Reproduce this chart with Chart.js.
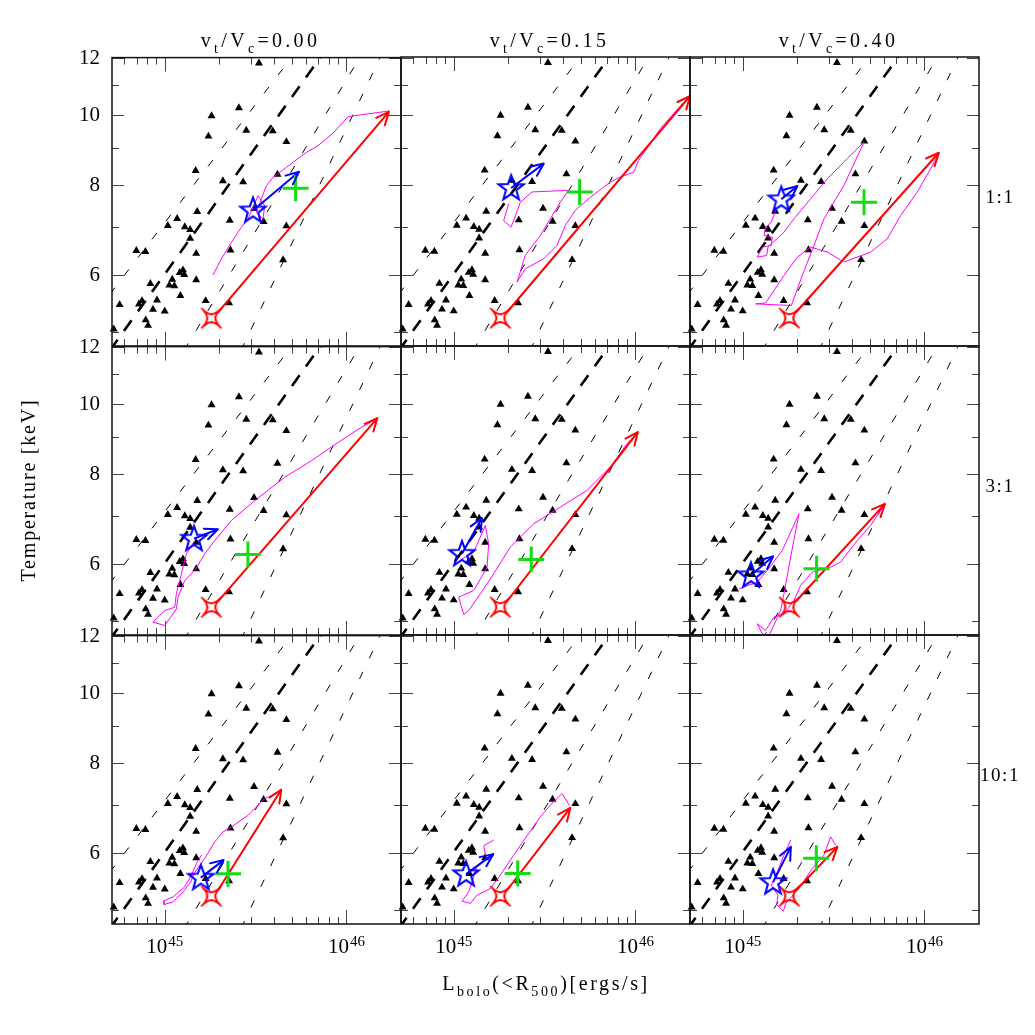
<!DOCTYPE html>
<html>
<head>
<meta charset="utf-8">
<title>Temperature vs bolometric luminosity</title>
<script src="https://cdn.jsdelivr.net/npm/chart.js@4.4.1/dist/chart.umd.min.js"></script>
<style>
  html,body{margin:0;padding:0;background:#fff;}
  #stage{position:relative;width:1035px;height:1035px;overflow:hidden;background:#fff;
         font-family:"Liberation Serif","DejaVu Serif",serif;color:#000;}
  .pw{position:absolute;}
  .pw canvas{display:block;}
  .lab{position:absolute;white-space:nowrap;transform:translate(-50%,-50%);line-height:1;}
  .lab sub{font-size:0.7em;vertical-align:-0.45em;line-height:0;}
</style>
</head>
<body>
<div id="stage"></div>
<script>
// ---------------- data (L in units of 10^45 erg/s, T in keV) ----------------
const COL_TITLES = ['0.00', '0.15', '0.40'];
const ROW_LABELS = ['1:1', '3:1', '10:1'];
const X_MAJOR = [1, 10];
const X_MINOR = [0.6, 0.7, 0.8, 0.9, 2, 3, 4, 5, 6, 7, 8, 9];
const Y_MAJOR = [6, 8, 10, 12];
const Y_MINOR = [5, 7, 9, 11];

// observed clusters (black triangles)
const OBS_L = [3.30, 2.56, 1.81, 2.81, 3.93, 1.74, 4.67, 1.48, 4.17, 2.09, 2.70, 3.10, 1.51, 1.17, 1.04, 1.29,
               1.38, 2.28, 3.50, 4.67, 1.38, 0.698, 0.783, 1.49, 2.30, 4.48, 1.26, 1.21, 1.28, 1.10, 1.49, 0.834,
               1.06, 1.13, 1.22, 0.565, 0.722, 0.750, 0.907, 0.862, 1.00, 1.68, 2.26, 0.786, 0.810, 0.524];
const OBS_T = [11.81, 10.24, 9.98, 9.53, 9.51, 9.35, 9.19, 8.38, 8.28, 8.11, 8.08, 7.42, 7.35, 7.19, 7.03, 7.00,
               6.94, 7.15, 7.12, 7.02, 6.75, 6.49, 6.47, 6.43, 6.50, 6.30, 6.10, 6.05, 6.01, 5.92, 5.91, 5.84,
               5.81, 5.80, 5.62, 5.46, 5.47, 5.53, 5.54, 5.38, 5.35, 5.53, 5.49, 5.20, 5.11, 5.05];

// reference relations (dashed)
const FIT_L = [0.50, 7.3],   FIT_T = [4.72, 12.1];
const LO_L  = [0.50, 5.08],  LO_T  = [5.65, 12.1];
const HI1_L = [1.28, 12.0],  HI1_T = [4.72, 12.1];
const HI2_L = [2.63, 15.5],  HI2_T = [4.72, 12.1];

// initial state (red star) and red arrow start
const RED_STAR_L = 1.805, RED_STAR_T = 5.23;
const RED_START_L = 1.964, RED_START_T = 5.33;

// per panel: [1:1 a,b,c, 3:1 a,b,c, 10:1 a,b,c]
const RED_TIP_L   = [17.1, 20.0, 12.0, 14.8, 10.3, 6.06, 4.38, 4.38, 3.32];
const RED_TIP_T   = [10.11, 10.62, 8.86, 9.57, 9.14, 7.27, 7.35, 6.93, 6.12];
const BLUE_STAR_L = [3.06, 2.07, 1.63, 1.45, 1.11, 1.11, 1.58, 1.17, 1.47];
const BLUE_STAR_T = [7.38, 7.92, 7.64, 6.51, 6.20, 5.79, 5.55, 5.61, 5.47];
const BLUE_TIP_L  = [5.48, 3.13, 2.00, 1.96, 1.43, 1.47, 2.11, 1.65, 1.84];
const BLUE_TIP_T  = [8.35, 8.56, 7.97, 6.71, 6.95, 6.15, 5.87, 5.98, 6.12];
const GREEN_L     = [5.25, 4.93, 4.65, 2.87, 2.67, 2.55, 2.23, 2.25, 2.54];
const GREEN_T     = [7.92, 7.82, 7.57, 6.19, 6.09, 5.91, 5.62, 5.62, 5.90];

// simulated evolution tracks (magenta)
const track11L = [1.844, 2.049, 2.326, 2.640, 2.872, 3.261, 3.547, 3.473, 3.192, 3.623, 3.942, 4.669, 6.013, 6.971, 8.429, 10.19, 10.86, 17.28];
const track11T = [6.006, 6.32, 6.665, 6.99, 7.18, 7.735, 7.49, 7.18, 7.33, 7.986, 8.20, 8.467, 8.883, 9.073, 9.445, 9.95, 9.98, 10.14];
const track12L = [2.006, 1.883, 2.066, 2.156, 2.326, 2.696, 4.290, 3.860, 3.401, 2.997, 2.474, 2.321, 2.229, 2.474, 3.125, 3.700, 4.113, 4.669, 5.645, 7.27, 8.256, 9.77, 10.41, 12.07, 13.70, 16.22, 19.20];
const track12T = [7.53, 7.14, 6.99, 7.18, 7.57, 7.82, 7.86, 7.57, 7.18, 6.81, 6.387, 6.056, 5.868, 6.12, 6.32, 6.595, 7.03, 7.375, 7.69, 8.07, 8.20, 8.33, 8.65, 9.12, 9.57, 10.04, 10.53];
const track13L = [1.518, 1.437, 1.337, 1.309, 1.455, 1.437, 1.282, 1.203, 1.354, 1.377, 1.687, 1.915, 2.364, 2.921, 3.762, 4.648, 3.606, 2.800, 2.466, 2.128, 1.851, 1.178, 1.337, 1.687, 1.997, 2.364, 2.921, 3.606, 5.056, 6.242, 7.39, 9.13, 10.81, 12.01];
const track13T = [7.375, 7.105, 6.99, 6.81, 6.77, 6.595, 6.56, 6.353, 6.387, 6.56, 6.88, 7.18, 7.65, 8.155, 8.70, 9.17, 7.986, 7.18, 6.595, 5.993, 5.445, 5.474, 5.49, 5.993, 6.353, 6.56, 6.457, 6.254, 6.457, 6.735, 7.255, 7.82, 8.42, 8.86];
const track21L = [1.462, 1.315, 1.235, 1.159, 1.135, 1.0, 0.862, 1.0, 1.159, 1.184, 1.288, 1.462, 1.659, 1.883, 2.326, 3.125, 4.571, 6.41, 8.98, 12.07, 14.60];
const track21T = [6.47, 6.20, 5.817, 5.458, 5.23, 5.175, 4.987, 4.934, 5.20, 5.40, 5.695, 5.88, 6.20, 6.47, 6.90, 7.35, 7.92, 8.35, 8.85, 9.29, 9.54];
const track22L = [1.111, 1.288, 1.493, 1.557, 1.525, 1.288, 1.065, 1.135, 1.209, 1.402, 1.659, 2.049, 2.754, 3.860, 5.411, 7.27, 8.98, 10.19];
const track22T = [6.10, 6.23, 6.785, 6.40, 5.94, 5.515, 5.40, 5.11, 5.175, 5.458, 5.817, 6.335, 6.823, 7.194, 7.59, 8.17, 8.81, 9.09];
const track23L = [0.954, 1.203, 1.366, 1.651, 2.040, 1.835, 1.687, 1.617, 1.395, 1.282, 1.203, 1.337, 1.486, 1.687, 1.915, 2.083, 2.415, 3.046, 3.457, 4.270, 5.056, 5.98];
const track23T = [5.545, 5.665, 5.88, 6.266, 7.045, 6.135, 5.458, 5.175, 4.778, 4.803, 4.96, 4.855, 5.068, 5.12, 5.343, 5.606, 5.848, 5.94, 6.04, 6.47, 6.785, 7.235];
const track31L = [1.591, 1.493, 1.402, 1.288, 1.111, 0.979, 0.991, 1.111, 1.261, 1.390, 1.449, 1.659, 1.883, 2.093, 2.326, 2.872, 3.547, 4.381];
const track31T = [5.962, 5.805, 5.593, 5.389, 5.22, 5.148, 5.093, 5.137, 5.304, 5.474, 5.623, 5.898, 6.22, 6.423, 6.526, 6.77, 7.14, 7.33];
const track32L = [1.659, 1.462, 1.512, 1.343, 1.288, 1.209, 1.111, 1.235, 1.343, 1.591, 1.805, 2.137, 2.474, 2.997, 3.401, 3.942, 4.326];
const track32T = [6.254, 6.142, 5.898, 5.763, 5.563, 5.304, 5.148, 5.11, 5.247, 5.36, 5.593, 5.962, 6.287, 6.735, 6.99, 7.255, 6.99];
const track33L = [1.835, 1.687, 1.550, 1.437, 1.563, 1.537, 1.673, 1.723, 2.040, 2.415, 2.800, 3.046, 3.246];
const track33T = [6.254, 5.962, 5.653, 5.417, 5.247, 5.093, 4.987, 5.11, 5.36, 5.713, 5.962, 6.32, 6.154];

const TRACKS_L = [track11L, track12L, track13L, track21L, track22L, track23L, track31L, track32L, track33L];
const TRACKS_T = [track11T, track12T, track13T, track21T, track22T, track23T, track31T, track32T, track33T];

// ---------------- layout / style ----------------
const X_MIN = Math.pow(10, -0.29), X_MAX = Math.pow(10, 1.30);
const Y_MIN = Math.pow(10, 0.68),  Y_MAX = Math.pow(10, 1.08);
const PANEL_X0 = 112, PANEL_Y0 = 57, PANEL = 289;
const PAD_L = 70, PAD_R = 24, PAD_T = 24, PAD_B = 50;
const FONT = '"Liberation Serif", "DejaVu Serif", serif';
const HEAD_LEN = 14, HEAD_ANG = 0.42;

const pts = (L, T) => L.map((v, i) => ({x: v, y: T[i]}));

function makeBlueStar() {
  const s = 44, c = document.createElement('canvas'); c.width = s; c.height = s;
  const g = c.getContext('2d');
  g.strokeStyle = '#0000ff'; g.lineJoin = 'miter';
  const outline = (R, r, w) => {
    g.lineWidth = w;
    g.beginPath();
    for (let k = 0; k < 10; k++) {
      const rad = (k % 2) ? r : R;
      const a = -Math.PI / 2 + k * Math.PI / 5;
      const px = s / 2 + rad * Math.cos(a), py = s / 2 + rad * Math.sin(a) + 0.5;
      if (k === 0) g.moveTo(px, py); else g.lineTo(px, py);
    }
    g.closePath(); g.stroke();
  };
  outline(14.2, 5.9, 1.4);
  outline(12.0, 4.9, 1.2);
  return c;
}
function makeRedStar() {
  const s = 44, c = document.createElement('canvas'); c.width = s; c.height = s;
  const g = c.getContext('2d');
  g.strokeStyle = '#ff0000'; g.lineJoin = 'miter';
  const cx = s / 2;
  const outline = (R, q, w) => {
    g.lineWidth = w;
    g.beginPath();
    for (let k = 0; k < 4; k++) {
      const a = -3 * Math.PI / 4 + k * Math.PI / 2;
      const an = a + Math.PI / 2;
      if (k === 0) g.moveTo(cx + R * Math.cos(a), cx + R * Math.sin(a));
      g.bezierCurveTo(cx + q * Math.cos(a), cx + q * Math.sin(a),
                      cx + q * Math.cos(an), cx + q * Math.sin(an),
                      cx + R * Math.cos(an), cx + R * Math.sin(an));
    }
    g.closePath(); g.stroke();
  };
  outline(14.5, 3.2, 1.6);
  outline(12.3, 2.6, 1.1);
  return c;
}
const BLUE_STAR_IMG = makeBlueStar();
const RED_STAR_IMG = makeRedStar();

const deco = {
  id: 'deco',
  afterDatasetsDraw(chart, args, opts) {
    const ctx = chart.ctx, a = chart.chartArea, xs = chart.scales.x, ys = chart.scales.y;
    ctx.save();
    // arrow heads
    chart.data.datasets.forEach((ds, i) => {
      if (!ds.arrowHead) return;
      const el = chart.getDatasetMeta(i).data;
      const p1 = el[el.length - 1], p0 = el[el.length - 2];
      const ang = Math.atan2(p1.y - p0.y, p1.x - p0.x);
      ctx.setLineDash([]);
      ctx.strokeStyle = ds.borderColor; ctx.lineWidth = ds.borderWidth; ctx.lineCap = 'round';
      ctx.beginPath();
      for (const sg of [-1, 1]) {
        ctx.moveTo(p1.x, p1.y);
        ctx.lineTo(p1.x - HEAD_LEN * Math.cos(ang + sg * HEAD_ANG), p1.y - HEAD_LEN * Math.sin(ang + sg * HEAD_ANG));
      }
      ctx.stroke();
    });
    // inward ticks on four sides
    ctx.lineCap = 'butt';
    ctx.strokeStyle = '#444'; ctx.lineWidth = 1;
    ctx.beginPath();
    const xt = (v, len) => {
      const p = Math.round(xs.getPixelForValue(v)) + 0.5;
      ctx.moveTo(p, a.bottom); ctx.lineTo(p, a.bottom - len);
      ctx.moveTo(p, a.top); ctx.lineTo(p, a.top + len);
    };
    const yt = (v, len) => {
      const p = Math.round(ys.getPixelForValue(v)) + 0.5;
      ctx.moveTo(a.left, p); ctx.lineTo(a.left + len, p);
      ctx.moveTo(a.right, p); ctx.lineTo(a.right - len, p);
    };
    X_MAJOR.forEach(v => xt(v, 14)); X_MINOR.forEach(v => xt(v, 7));
    Y_MAJOR.forEach(v => yt(v, 12)); Y_MINOR.forEach(v => yt(v, 7));
    ctx.stroke();
    // frame
    ctx.strokeStyle = '#111'; ctx.lineWidth = 1.5;
    ctx.strokeRect(a.left, a.top, a.right - a.left, a.bottom - a.top);
    // x tick labels 10^n
    if (opts.xLabels) {
      ctx.fillStyle = '#000'; ctx.textBaseline = 'alphabetic'; ctx.textAlign = 'left';
      X_MAJOR.forEach(v => {
        const px = xs.getPixelForValue(v);
        const base = '10', ex = String(45 + Math.round(Math.log10(v)));
        ctx.font = '21px ' + FONT; const wb = ctx.measureText(base).width;
        ctx.font = '15px ' + FONT; const we = ctx.measureText(ex).width;
        const x0 = px - (wb + we + 1) / 2;
        ctx.font = '21px ' + FONT; ctx.fillText(base, x0, a.bottom + 29);
        ctx.font = '15px ' + FONT; ctx.fillText(ex, x0 + wb + 1, a.bottom + 22);
      });
    }
    ctx.restore();
  }
};

const stage = document.getElementById('stage');

function datasetsFor(k) {
  const lineDs = (L, T, w, dash, ord) => ({
    data: pts(L, T), showLine: true, pointRadius: 0, borderColor: '#000', borderWidth: w,
    borderDash: dash, order: ord, tension: 0
  });
  return [
    { data: [{x: GREEN_L[k], y: GREEN_T[k]}], pointStyle: 'cross', pointRadius: 13, borderColor: '#11dd11',
      backgroundColor: '#11dd11', borderWidth: 3, order: 1, clip: false },
    { data: [{x: BLUE_STAR_L[k], y: BLUE_STAR_T[k]}], pointStyle: BLUE_STAR_IMG, order: 2, clip: false },
    { data: [{x: RED_STAR_L, y: RED_STAR_T}], pointStyle: RED_STAR_IMG, order: 3, clip: false },
    { data: [{x: BLUE_STAR_L[k], y: BLUE_STAR_T[k]}, {x: BLUE_TIP_L[k], y: BLUE_TIP_T[k]}], showLine: true,
      pointRadius: 0, borderColor: '#0000ff', borderWidth: 2, arrowHead: true, order: 4, clip: false },
    { data: [{x: RED_START_L, y: RED_START_T}, {x: RED_TIP_L[k], y: RED_TIP_T[k]}], showLine: true,
      pointRadius: 0, borderColor: '#ff0000', borderWidth: 2, arrowHead: true, order: 5, clip: false },
    { data: pts(TRACKS_L[k], TRACKS_T[k]), showLine: true, pointRadius: 0, borderColor: '#ff00ff',
      borderWidth: 1, order: 6, clip: false, tension: 0 },
    { data: pts(OBS_L, OBS_T), pointStyle: 'triangle', pointRadius: 4.6, backgroundColor: '#000',
      borderColor: '#000', borderWidth: 0, order: 7, clip: false },
    lineDs(LO_L, LO_T, 1, [8, 15], 8),
    lineDs(HI1_L, HI1_T, 1, [8, 15], 9),
    lineDs(HI2_L, HI2_T, 1, [8, 15], 10),
    lineDs(FIT_L, FIT_T, 2.6, [13, 11], 11)
  ];
}

for (let r = 0; r < 3; r++) {
  for (let c = 0; c < 3; c++) {
    const k = r * 3 + c;
    const W = PAD_L + PANEL + PAD_R, H = PAD_T + PANEL + PAD_B;
    const wrap = document.createElement('div');
    wrap.className = 'pw';
    wrap.style.left = (PANEL_X0 + c * PANEL - PAD_L) + 'px';
    wrap.style.top = (PANEL_Y0 + r * PANEL - PAD_T) + 'px';
    wrap.style.width = W + 'px'; wrap.style.height = H + 'px';
    const cv = document.createElement('canvas');
    cv.width = W; cv.height = H; cv.style.width = W + 'px'; cv.style.height = H + 'px';
    wrap.appendChild(cv); stage.appendChild(wrap);

    new Chart(cv.getContext('2d'), {
      type: 'scatter',
      data: { datasets: datasetsFor(k) },
      plugins: [deco],
      options: {
        responsive: false, animation: false, devicePixelRatio: 1, events: [],
        layout: { padding: { top: PAD_T, right: PAD_R, left: 0, bottom: 0 } },
        plugins: { legend: { display: false }, tooltip: { enabled: false }, deco: { xLabels: r === 2 } },
        scales: {
          x: {
            type: 'logarithmic', position: 'bottom', min: X_MIN, max: X_MAX,
            grid: { display: false, drawTicks: false }, border: { display: false },
            ticks: { display: false },
            afterBuildTicks: s => { s.ticks = X_MAJOR.map(v => ({ value: v })); },
            afterFit: s => { s.height = PAD_B; }
          },
          y: {
            type: 'logarithmic', position: 'left', min: Y_MIN, max: Y_MAX,
            grid: { display: false, drawTicks: false }, border: { display: false },
            ticks: { display: c === 0, autoSkip: false, padding: 12, color: '#000',
                     font: { family: FONT, size: 21 }, callback: v => String(v) },
            afterBuildTicks: s => { s.ticks = Y_MAJOR.map(v => ({ value: v })); },
            afterFit: s => { s.width = PAD_L; }
          }
        }
      }
    });
  }
}

// ---------------- text labels ----------------
function addLabel(html, x, y, size, extra) {
  const d = document.createElement('div');
  d.className = 'lab';
  d.innerHTML = html;
  d.style.left = x + 'px'; d.style.top = y + 'px';
  d.style.fontSize = size + 'px';
  if (extra) Object.assign(d.style, extra);
  stage.appendChild(d);
}
COL_TITLES.forEach((t, c) => {
  addLabel('v<sub>t</sub>/V<sub>c</sub>=' + t, PANEL_X0 + c * PANEL + PANEL / 2 + 4, 40, 20, { letterSpacing: '3.3px' });
});
ROW_LABELS.forEach((t, r) => {
  addLabel(t, 1000, 196 + r * PANEL, 19, { letterSpacing: '1.5px' });
});
addLabel('L<sub>bolo</sub>(&lt;R<sub>500</sub>)[ergs/s]', 546, 983, 20, { letterSpacing: '2.6px' });
addLabel('Temperature [keV]', 28, 490, 20,
  { letterSpacing: '1.8px', transform: 'translate(-50%,-50%) rotate(-90deg)' });
</script>
</body>
</html>
